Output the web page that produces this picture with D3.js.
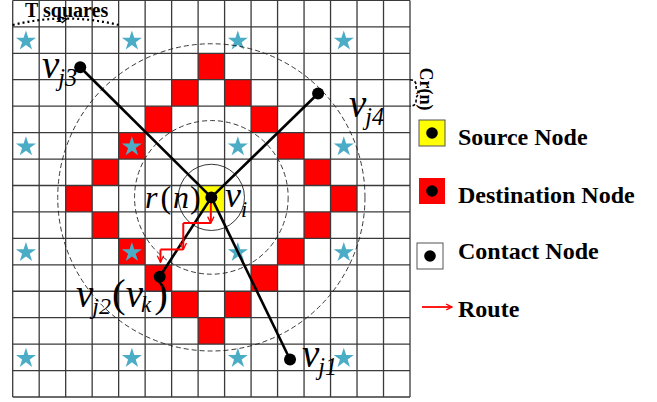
<!DOCTYPE html>
<html>
<head>
<meta charset="utf-8">
<script src="https://cdn.jsdelivr.net/npm/d3@7"></script>
<style>
  body { margin: 0; background: #fff; }
  svg { display: block; }
  text { font-family: "Liberation Serif", "Times New Roman", serif; }
</style>
</head>
<body>
<div id="chart"></div>
<script>
// grid of 15 x 15 squares
var gridCols = d3.range(16);
var gridRows = d3.range(16);

// star squares (every T squares)
var starCols = [0, 4, 8, 12];
var starRows = [1, 5, 9, 13];

// source square
var sourceCell = [7, 7];

// destination squares (red ring)
var destCells = [[7,2],[6,3],[8,3],[5,4],[9,4],[4,5],[10,5],[3,6],[11,6],[2,7],
                 [12,7],[3,8],[11,8],[4,9],[10,9],[5,10],[9,10],[6,11],[8,11],[7,12]];

// contact nodes (grid units)
var nodeNames = ["j1", "j2", "j3", "j4"];
var nodeX = [10.47, 5.55, 2.55, 11.53];
var nodeY = [13.58, 10.45, 2.53, 3.52];

// circles around the source (grid units)
var circleRadii = [1.25, 2.9, 5.8];
var circleDashed = [false, true, true];

// route steps (grid units)
var routeX = [7.48, 7.48, 6.44, 6.44, 5.58, 5.58];
var routeY = [7.55, 8.42, 8.42, 9.42, 9.42, 9.9];
var routeArrow = [1, 3, 5];

// legend
var legendLabels = ["Source Node", "Destination Node", "Contact Node", "Route"];
var legendFill = ["#ffff00", "#ff0000", "#ffffff", null];

var width = 657, height = 402;
var svg = d3.select("#chart").append("svg")
  .attr("width", width)
  .attr("height", height);

var x = d3.scaleLinear().domain([0, 15]).range([12.7, 410]);
var y = d3.scaleLinear().domain([0, 15]).range([0.4, 397]);
var cw = x(1) - x(0), ch = y(1) - y(0);

svg.append("defs").append("marker")
  .attr("id", "arrow")
  .attr("viewBox", "0 0 10 10")
  .attr("refX", 9).attr("refY", 5)
  .attr("markerWidth", 4).attr("markerHeight", 4)
  .attr("orient", "auto")
  .append("path")
  .attr("d", "M1,1 L9,5 L1,9")
  .attr("fill", "none")
  .attr("stroke", "#ff0000")
  .attr("stroke-width", 1.6);

// red + yellow squares
svg.selectAll(".dest").data(destCells).enter().append("rect")
  .attr("x", function (d) { return x(d[0]); })
  .attr("y", function (d) { return y(d[1]); })
  .attr("width", cw).attr("height", ch)
  .attr("fill", "#ff0000");

svg.append("rect")
  .attr("x", x(sourceCell[0])).attr("y", y(sourceCell[1]))
  .attr("width", cw).attr("height", ch)
  .attr("fill", "#ffff00");

// grid lines
svg.selectAll(".vl").data(gridCols).enter().append("line")
  .attr("x1", function (d) { return x(d); }).attr("x2", function (d) { return x(d); })
  .attr("y1", y(0)).attr("y2", y(15))
  .attr("stroke", "#3a3a3a").attr("stroke-width", 1.3);
svg.selectAll(".hl").data(gridRows).enter().append("line")
  .attr("y1", function (d) { return y(d); }).attr("y2", function (d) { return y(d); })
  .attr("x1", x(0)).attr("x2", x(15))
  .attr("stroke", "#3a3a3a").attr("stroke-width", 1.3);

// stars
var stars = [];
starRows.forEach(function (r) { starCols.forEach(function (c) { stars.push([c, r]); }); });
svg.selectAll(".star").data(stars).enter().append("path")
  .attr("d", d3.symbol(d3.symbolStar).size(125))
  .attr("transform", function (d) { return "translate(" + x(d[0] + 0.5) + "," + (y(d[1] + 0.5) + 1) + ")"; })
  .attr("fill", "#4bacc6");

// circles
var cx = x(sourceCell[0] + 0.5), cy = y(sourceCell[1] + 0.45);
svg.selectAll(".ring").data(circleRadii).enter().append("circle")
  .attr("cx", cx).attr("cy", cy)
  .attr("r", function (d) { return d * cw; })
  .attr("fill", "none")
  .attr("stroke", "#222")
  .attr("stroke-width", 0.9)
  .attr("stroke-dasharray", function (d, i) { return circleDashed[i] ? "5,3" : null; });

// lines to contact nodes
svg.selectAll(".link").data(nodeNames).enter().append("line")
  .attr("x1", cx).attr("y1", cy)
  .attr("x2", function (d, i) { return x(nodeX[i]); })
  .attr("y2", function (d, i) { return y(nodeY[i]); })
  .attr("stroke", "#000").attr("stroke-width", 2.6);

// route
for (var i = 1; i < routeX.length; i++) {
  svg.append("line")
    .attr("x1", x(routeX[i - 1])).attr("y1", y(routeY[i - 1]))
    .attr("x2", x(routeX[i])).attr("y2", y(routeY[i]))
    .attr("stroke", "#ff0000").attr("stroke-width", 2)
    .attr("marker-end", routeArrow.indexOf(i) >= 0 ? "url(#arrow)" : null);
}

// node dots
svg.selectAll(".node").data(nodeNames).enter().append("circle")
  .attr("cx", function (d, i) { return x(nodeX[i]); })
  .attr("cy", function (d, i) { return y(nodeY[i]); })
  .attr("r", 6).attr("fill", "#000");
svg.append("circle").attr("cx", cx).attr("cy", cy).attr("r", 6).attr("fill", "#000");

// math labels
function mathLabel(px, py, sub, size, dx, dy) {
  var t = svg.append("text").attr("x", px).attr("y", py)
    .attr("font-style", "italic").attr("font-size", size);
  t.append("tspan").text("v");
  t.append("tspan").attr("dx", dx).attr("dy", dy)
    .attr("font-size", size * 0.62).text(sub);
  return t;
}
mathLabel(42, 78, "j3", 39, -1, 8);
mathLabel(349, 117, "j4", 39, -1, 8);
mathLabel(302, 367, "j1", 39, -1, 8);
mathLabel(225, 207, "i", 36, 0, 10);

var j2 = svg.append("text").attr("x", 76).attr("y", 307)
  .attr("font-style", "italic").attr("font-size", 39);
j2.append("tspan").text("v");
j2.append("tspan").attr("dx", -1).attr("dy", 7).attr("font-size", 24).text("j2");
j2.append("tspan").attr("dx", 1).attr("dy", -7).attr("font-style", "normal").attr("font-size", 41).text("(");
j2.append("tspan").text("v");
j2.append("tspan").attr("dx", -2).attr("dy", 5).attr("font-size", 23).text("k");
j2.append("tspan").attr("dx", 3).attr("dy", -5).attr("font-style", "normal").attr("font-size", 41).text(")");

var rn = svg.append("text").attr("x", 145).attr("y", 208)
  .attr("font-style", "italic").attr("font-size", 32);
rn.append("tspan").text("r");
rn.append("tspan").attr("dx", 3).attr("font-style", "normal").text("(");
rn.append("tspan").attr("dx", 2).text("n");
rn.append("tspan").attr("dx", 1).attr("font-style", "normal").text(")");

// T squares
svg.append("text").attr("x", 25).attr("y", 17)
  .attr("font-weight", "bold").attr("font-size", 20).text("T squares");
svg.append("path")
  .attr("d", "M" + x(0) + ",25 Q" + x(2) + ",12 " + x(4) + ",25")
  .attr("fill", "none").attr("stroke", "#000")
  .attr("stroke-width", 2.2).attr("stroke-dasharray", "2,3");
svg.append("path").attr("d", "M" + (x(2) - 6) + ",17 L" + (x(2) + 1) + ",19 L" + (x(2) - 4) + ",23")
  .attr("fill", "none").attr("stroke", "#000").attr("stroke-width", 1.5);

// Cr(n)
svg.append("path")
  .attr("d", "M" + x(15) + "," + y(3) + " Q" + (x(15) + 7) + "," + y(3) + " " + (x(15) + 6) + "," + (y(3.5) - 5) +
    " L" + (x(15) + 9) + "," + y(3.5) + " L" + (x(15) + 6) + "," + (y(3.5) + 5) +
    " Q" + (x(15) + 7) + "," + y(4) + " " + x(15) + "," + y(4))
  .attr("fill", "none").attr("stroke", "#000")
  .attr("stroke-width", 1.6).attr("stroke-dasharray", "3,2");
svg.append("text")
  .attr("transform", "translate(420," + 89 + ") rotate(90)")
  .attr("text-anchor", "middle")
  .attr("font-weight", "bold").attr("font-size", 18).text("Cr(n)");

// legend
var legY = [133, 191, 256, 307];
var legTextDy = [12, 12, 3, 10];
var leg = svg.selectAll(".leg").data(legendLabels).enter().append("g")
  .attr("transform", function (d, i) { return "translate(0," + legY[i] + ")"; });
leg.filter(function (d, i) { return legendFill[i]; }).append("rect")
  .attr("x", function (d, i) { return i == 2 ? 417 : 419; })
  .attr("y", -13).attr("width", 26).attr("height", 26)
  .attr("fill", function (d, i) { return legendFill[i]; })
  .attr("stroke", function (d, i) { return i == 1 ? "none" : "#555"; })
  .attr("stroke-width", 1);
leg.filter(function (d, i) { return legendFill[i]; }).append("circle")
  .attr("cx", function (d, i) { return i == 2 ? 430 : 432; })
  .attr("cy", 0).attr("r", 5.8).attr("fill", "#000");
leg.filter(function (d, i) { return !legendFill[i]; }).append("line")
  .attr("x1", 422).attr("x2", 452).attr("y1", 0).attr("y2", 0)
  .attr("stroke", "#ff0000").attr("stroke-width", 1.8)
  .attr("marker-end", "url(#arrow)");
leg.append("text")
  .attr("x", 458).attr("y", function (d, i) { return legTextDy[i]; })
  .attr("font-weight", "bold").attr("font-size", 24)
  .text(function (d) { return d; });
</script>
</body>
</html>
